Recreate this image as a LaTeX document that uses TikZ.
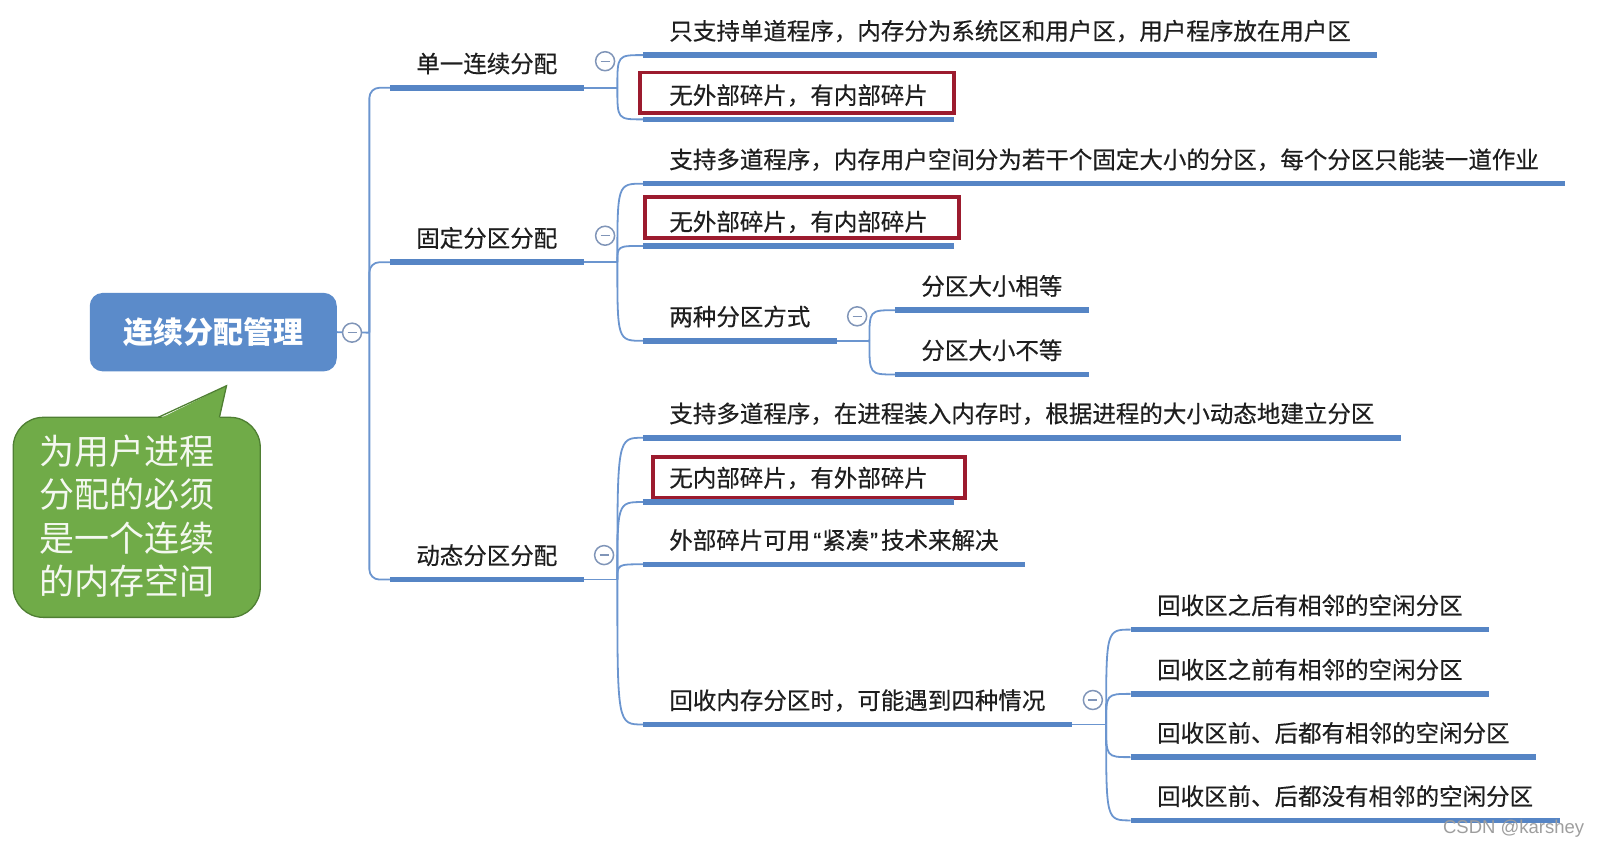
\documentclass[tikz,border=0pt]{standalone}
\usepackage{fontspec}
\setmainfont{Liberation Sans}
\newfontfamily\cjk{Noto Sans CJK SC}
\newfontfamily\cjkm{Noto Sans CJK SC}[FakeBold=0.45]
\newfontfamily\latin{Liberation Sans}[FakeBold=0.45]
\definecolor{lineblue}{HTML}{5685C5}
\definecolor{linkblue}{HTML}{6B95CF}
\definecolor{rootblue}{HTML}{5B8BCA}
\definecolor{txt}{HTML}{1E1E1E}
\definecolor{boxred}{HTML}{9C1B2E}
\definecolor{notegreen}{HTML}{70AB48}
\definecolor{noteedge}{HTML}{4F7F33}
\definecolor{colgray}{HTML}{8095B8}
\begin{document}
\begin{tikzpicture}[x=1.0204pt,y=-1.0204pt,
  conn/.style={draw=linkblue, line width=1.8pt},
  uline/.style={draw=lineblue, line width=5.5pt},
  topic/.style={anchor=south west, font=\cjkm\fontsize{23.5}{26}\selectfont, text=txt,
    inner xsep=26.5pt, inner ysep=15.3pt, text depth=0pt, outer sep=0pt},
  redbox/.style={draw=boxred, line width=3.8pt, inner sep=0pt, outer sep=0pt},
  colbtn/.style={circle, draw=colgray, line width=1.5pt, fill=white, minimum size=19pt, inner sep=0pt,
    path picture={\draw[colgray, line width=1.4pt] ([xshift=-4.5pt]path picture bounding box.center) -- ([xshift=4.5pt]path picture bounding box.center);}},
  rootbox/.style={fill=rootblue, rounded corners=13pt, minimum width=247pt, minimum height=78.5pt,
    text=white, font=\cjk\bfseries\fontsize{30}{32}\selectfont},
  notebox/.style={fill=notegreen, draw=noteedge, line width=1.3pt, rounded corners=30pt,
    minimum width=247pt, minimum height=200pt},
  notetext/.style={anchor=west, align=left, text=white!92!notegreen, font=\cjk\fontsize{35}{43.5}\selectfont, inner sep=0pt}
]
\useasboundingbox (0,0) rectangle (1568,832);

% root and note
\node[rootbox] (root) at (209,325.5) {连续分配管理};
\node[notebox] (note) at (134,507) {};
\coordinate (ptip) at (222,378);
\coordinate (pl) at (155,409);
\coordinate (pr) at (215,409);
\fill[notegreen] ([yshift=-2pt]pl) -- (ptip) -- ([yshift=-2pt]pr) -- cycle;
\draw[noteedge, line width=1.3pt, line join=miter] (pl) -- (ptip) -- (pr);
\node[notetext] (nt) at (39,506) {为用户进程\\分配的必须\\是一个连续\\的内存空间};

% level 1
\node[topic] (L1) at (382,86) {单一连续分配};
\node[topic] (L2) at (382,257) {固定分区分配};
\node[topic] (L3) at (382,568) {动态分区分配};

% level 2
\node[topic] (a1) at (630,54) {只支持单道程序，内存分为系统区和用户区，用户程序放在用户区};
\node[topic] (a2) at (630,117) {无外部碎片，有内部碎片};
\node[topic] (b1) at (630,180) {支持多道程序，内存用户空间分为若干个固定大小的分区，每个分区只能装一道作业};
\node[topic] (b2) at (630,241) {无外部碎片，有内部碎片};
\node[topic] (b3) at (630,334) {两种分区方式};
\node[topic] (b31) at (877,304) {分区大小相等};
\node[topic] (b32) at (877,367) {分区大小不等};
\node[topic] (c1) at (630,429) {支持多道程序，在进程装入内存时，根据进程的大小动态地建立分区};
\node[topic] (c2) at (630,492) {无内部碎片，有外部碎片};
\node[topic] (c3) at (630,553) {外部碎片可用{\latin\kern3pt “\kern1pt}紧凑{\latin\kern1pt ”\kern3pt}技术来解决};
\node[topic] (c4) at (630,710) {回收内存分区时，可能遇到四种情况};
\node[topic] (d1) at (1108,617) {回收区之后有相邻的空闲分区};
\node[topic] (d2) at (1108,680) {回收区之前有相邻的空闲分区};
\node[topic] (d3) at (1108,742) {回收区前、后都有相邻的空闲分区};
\node[topic] (d4) at (1108,804) {回收区前、后都没有相邻的空闲分区};

% red boxes
\node[redbox, minimum width=314pt, minimum height=40.8pt] (r1) at (781,91) {};
\node[redbox, minimum width=314pt, minimum height=40.8pt] (r2) at (786,213) {};
\node[redbox, minimum width=312pt, minimum height=40.8pt] (r3) at (793,468) {};

% connectors: root trunk
\coordinate (tr) at (362,326);
\draw[conn] (root.east) -- (tr);
\foreach \n in {L1,L2,L3} \draw[conn, rounded corners=10pt] (tr) |- (\n.south west);

% level-1 branches
\coordinate (bA) at (605,86);
\coordinate (bB) at (605,257);
\coordinate (bC) at (605,568);
\draw[conn] (L1.south east) -- (bA);
\draw[conn] (L2.south east) -- (bB);
\draw[conn] (L3.south east) -- (bC);
\foreach \p/\c in {bA/a1,bA/a2,bB/b1,bB/b2,bB/b3,bC/c1,bC/c2,bC/c3,bC/c4}
  \draw[conn] (\p) .. controls (\p |- \c.south west) .. (\c.south west);

% level-2 branches
\coordinate (bD) at (852,334);
\coordinate (bE) at (1084,710);
\draw[conn] (b3.south east) -- (bD);
\draw[conn] (c4.south east) -- (bE);
\foreach \p/\c in {bD/b31,bD/b32,bE/d1,bE/d2,bE/d3,bE/d4}
  \draw[conn] (\p) .. controls (\p |- \c.south west) .. (\c.south west);

% underlines
\foreach \n in {L1,L2,L3,a1,a2,b1,b2,b3,b31,b32,c1,c2,c3,c4,d1,d2,d3,d4}
  \draw[uline] (\n.south west) -- (\n.south east);

% collapse buttons
\node[colbtn] (k0) at (345,326) {};
\node[colbtn] (k1) at (593,60) {};
\node[colbtn] (k2) at (593,231) {};
\node[colbtn] (k3) at (592,544) {};
\node[colbtn] (k4) at (840,310) {};
\node[colbtn] (k5) at (1071,686) {};

% watermark
\node[anchor=west, inner sep=0pt, font=\fontsize{18.5}{18.5}\selectfont, text=black!38] (wm) at (1414,812) {CSDN @karshey};
\end{tikzpicture}
\end{document}
